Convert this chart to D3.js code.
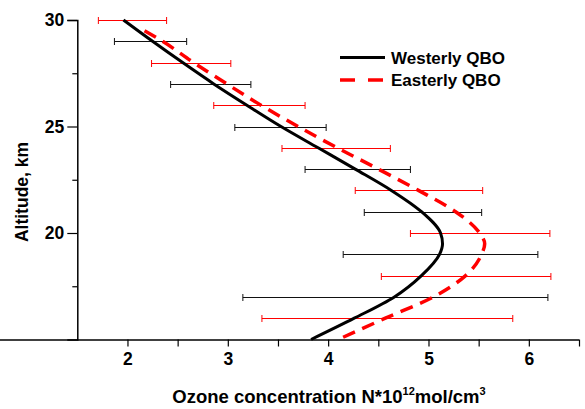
<!DOCTYPE html>
<html>
<head>
<meta charset="utf-8">
<script src="https://cdn.jsdelivr.net/npm/d3@7"></script>
<style>
  body { margin: 0; background: #fff; }
  svg { display: block; font-family: "Liberation Sans", Arial, sans-serif; font-weight: bold; }
</style>
</head>
<body>
<svg id="chart" width="585" height="409"></svg>
<script>
// curves: altitude (km) vs ozone concentration
var westAlt  = [30, 29, 28, 27, 26, 25, 24, 23, 22, 21, 20, 19.5, 19, 18, 17, 16, 15];
var westConc = [1.96, 2.25, 2.55, 2.86, 3.19, 3.53, 3.90, 4.27, 4.63, 4.93, 5.12, 5.14, 5.11, 4.93, 4.66, 4.26, 3.83];
var eastAlt  = [29.5, 29, 28, 27, 26, 25, 24, 23, 22, 21, 20, 19.5, 19, 18, 17, 16, 15];
var eastConc = [2.17, 2.35, 2.66, 2.99, 3.33, 3.70, 4.09, 4.50, 4.90, 5.27, 5.51, 5.56, 5.53, 5.37, 5.05, 4.57, 4.10];

// error bars
var westBarAlt  = [29, 27, 25, 23, 21, 19, 17];
var westBarLow  = [1.87, 2.43, 3.07, 3.77, 4.36, 4.15, 3.15];
var westBarHigh = [2.59, 3.23, 3.98, 4.82, 5.53, 6.09, 6.19];
var eastBarAlt  = [30, 28, 26, 24, 22, 20, 18, 16];
var eastBarLow  = [1.71, 2.24, 2.86, 3.54, 4.27, 4.82, 4.53, 3.34];
var eastBarHigh = [2.39, 3.03, 3.77, 4.62, 5.54, 6.21, 6.22, 5.84];

var xTicks = [2, 2.5, 3, 3.5, 4, 4.5, 5, 5.5, 6, 6.5];
var yMajor = [20, 25, 30];
var yMinor = [17.5, 22.5, 27.5];
var seriesNames = ["Westerly QBO", "Easterly QBO"];

var svg = d3.select("#chart");

var x = d3.scaleLinear().domain([1.5, 6.5]).range([77.3, 579]);
var y = d3.scaleLinear().domain([15, 30]).range([339.5, 20]);

//barras de error
function drawBars(alts, lows, highs, color) {
    var g = svg.append("g").attr("stroke", color).attr("stroke-width", 1).attr("fill", "none");
    alts.forEach(function (a, i) {
        var yy = Math.round(y(a)) + 0.5;
        g.append("line").attr("x1", x(lows[i])).attr("x2", x(highs[i])).attr("y1", yy).attr("y2", yy);
        g.append("line").attr("x1", x(lows[i])).attr("x2", x(lows[i])).attr("y1", yy - 3.5).attr("y2", yy + 3.5);
        g.append("line").attr("x1", x(highs[i])).attr("x2", x(highs[i])).attr("y1", yy - 3.5).attr("y2", yy + 3.5);
    });
}
drawBars(westBarAlt, westBarLow, westBarHigh, "#111");
drawBars(eastBarAlt, eastBarLow, eastBarHigh, "#ff0000");

//curvas
var line = d3.line()
    .x(function (d) { return x(d[0]); })
    .y(function (d) { return y(d[1]); })
    .curve(d3.curveMonotoneY);

svg.append("path")
    .datum(d3.zip(westConc, westAlt))
    .attr("d", line)
    .attr("fill", "none")
    .attr("stroke", "#000")
    .attr("stroke-width", 3);

svg.append("path")
    .datum(d3.zip(eastConc, eastAlt))
    .attr("d", line)
    .attr("fill", "none")
    .attr("stroke", "#ff0000")
    .attr("stroke-width", 3.5)
    .attr("stroke-dasharray", "13,8");

//ejes
var xAxis = svg.append("g")
    .attr("transform", "translate(0,339.5)")
    .call(d3.axisBottom(x).tickValues(xTicks).tickSize(7).tickPadding(6)
        .tickFormat(function (d) { return d % 1 === 0 ? d : ""; }));

var yAxis = svg.append("g")
    .attr("transform", "translate(77.3,0)")
    .call(d3.axisLeft(y).tickValues(yMajor).tickSize(10).tickPadding(3).tickFormat(d3.format("d")));

svg.append("g")
    .attr("transform", "translate(77.3,0)")
    .call(d3.axisLeft(y).tickValues(yMinor).tickSize(5).tickFormat(""))
    .select(".domain").remove();

[xAxis, yAxis].forEach(function (ax) {
    ax.selectAll(".domain").attr("stroke-width", 1.5);
    ax.selectAll(".tick text").attr("font-size", 17.5).attr("font-weight", "bold").attr("font-family", "Liberation Sans, Arial, sans-serif");
});
xAxis.select(".domain").attr("d", "M-2,0.5H579");
svg.selectAll(".tick line").attr("stroke-width", 1.2);

//titulos
var xTitle = svg.append("text")
    .attr("x", 329)
    .attr("y", 403)
    .attr("text-anchor", "middle")
    .attr("font-size", 18.5);
xTitle.append("tspan").text("Ozone concentration N*10");
xTitle.append("tspan").attr("font-size", 11).attr("dy", -8).text("12");
xTitle.append("tspan").attr("dy", 8).text("mol/cm");
xTitle.append("tspan").attr("font-size", 11).attr("dy", -8).text("3");

svg.append("text")
    .attr("transform", "translate(28,192) rotate(-90)")
    .attr("text-anchor", "middle")
    .attr("font-size", 17.5)
    .text("Altitude, km");

//leyenda
var legend = svg.append("g");
legend.append("line").attr("x1", 340).attr("x2", 385).attr("y1", 57.5).attr("y2", 57.5)
    .attr("stroke", "#000").attr("stroke-width", 3);
legend.append("line").attr("x1", 340).attr("x2", 385).attr("y1", 80).attr("y2", 80)
    .attr("stroke", "#ff0000").attr("stroke-width", 3.5).attr("stroke-dasharray", "15,13");
legend.selectAll("text.lg")
    .data(seriesNames)
    .enter().append("text")
    .attr("class", "lg")
    .attr("x", 391)
    .attr("y", function (d, i) { return 63.5 + i * 22.5; })
    .attr("font-size", 17)
    .text(function (d) { return d; });
</script>
</body>
</html>
